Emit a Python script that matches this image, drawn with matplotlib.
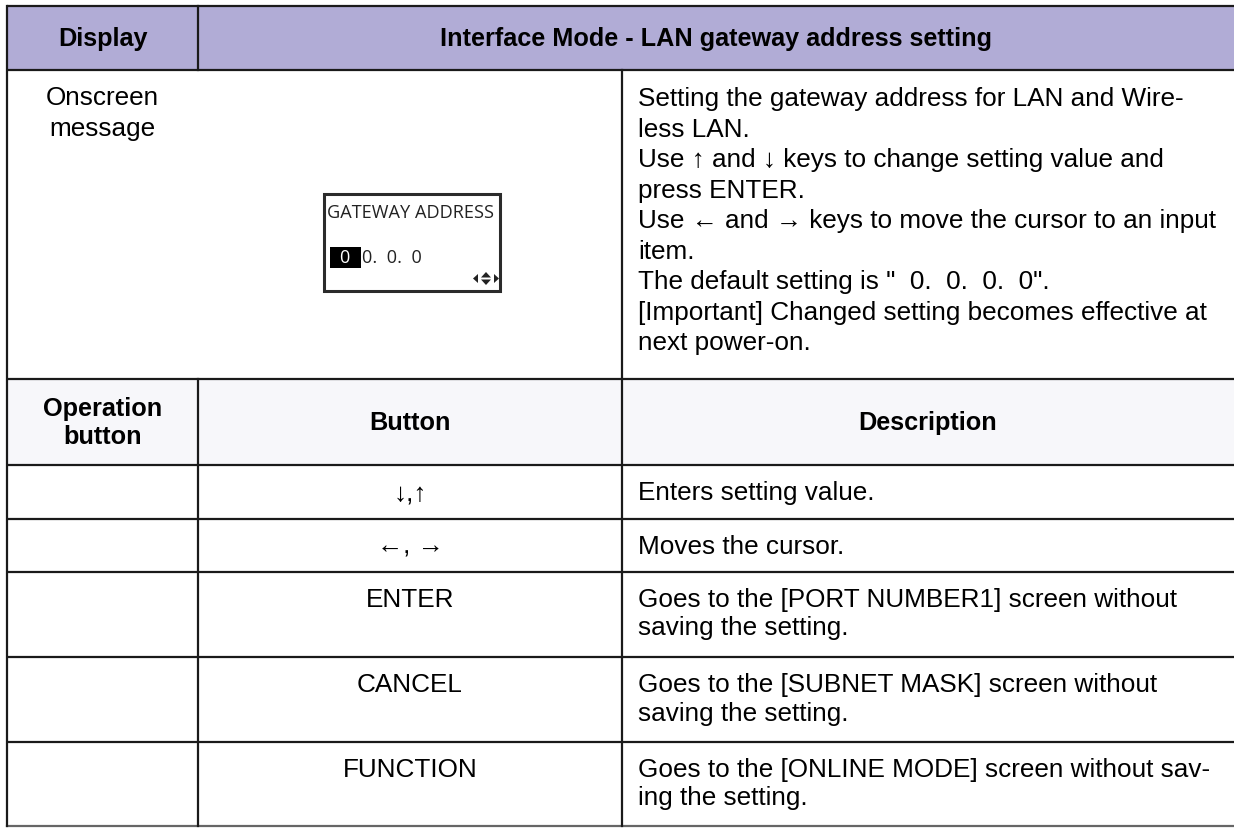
import matplotlib.pyplot as plt
from matplotlib.patches import Rectangle, Polygon

plt.rcParams['font.family'] = ['Liberation Sans', 'DejaVu Sans']

# table content
header_left = 'Display'
header_right = 'Interface Mode - LAN gateway address setting'
onscreen_label = ['Onscreen', 'message']
onscreen_desc = [
    'Setting the gateway address for LAN and Wire-',
    'less LAN.',
    'Use \u2191 and \u2193 keys to change setting value and',
    'press ENTER.',
    'Use \u2190 and \u2192 keys to move the cursor to an input',
    'item.',
    'The default setting is "  0.  0.  0.  0".',
    '[Important] Changed setting becomes effective at',
    'next power-on.',
]
lcd_title = 'GATEWAY ADDRESS'
lcd_cursor = '0'
lcd_rest = '0.  0.  0'
sub_headers = [['Operation', 'button'], ['Button'], ['Description']]
buttons = ['\u2193,\u2191', '\u2190, \u2192', 'ENTER', 'CANCEL', 'FUNCTION']
descriptions = [
    ['Enters setting value.'],
    ['Moves the cursor.'],
    ['Goes to the [PORT NUMBER1] screen without', 'saving the setting.'],
    ['Goes to the [SUBNET MASK] screen without', 'saving the setting.'],
    ['Goes to the [ONLINE MODE] screen without sav-', 'ing the setting.'],
]

# layout in pixels
W, H = 1234, 829
x0, x1, x2, x3 = 7, 198, 622, 1234
row_y = [7, 71, 380, 466, 520, 573, 658, 743, 827]
fs = 18.8
fs_head = 18.2
lead = 30.5
lead2 = 28.5
lcd_fs = 13.1

fig = plt.figure(figsize=(W / 100, H / 100), dpi=100)
ax = fig.add_axes([0, 0, 1, 1])
ax.set_xlim(0, W)
ax.set_ylim(H, 0)
ax.axis('off')

# fills
ax.add_patch(Rectangle((x0, row_y[0]), x3 - x0, row_y[1] - row_y[0],
                       facecolor='#b1acd6', edgecolor='none'))
ax.add_patch(Rectangle((x0, row_y[2]), x3 - x0, row_y[3] - row_y[2],
                       facecolor='#f7f7fa', edgecolor='none'))

# grid lines
lc = '#1a1a1a'
lw = 1.6
for y in row_y[:-1]:
    ax.plot([x0, x3], [y, y], color=lc, lw=lw, solid_capstyle='butt')
ax.plot([x0, x3], [row_y[-1], row_y[-1]], color='#666666', lw=lw)
ax.plot([x0, x0], [row_y[0], row_y[-1]], color=lc, lw=lw)
ax.plot([x1, x1], [row_y[0], row_y[1]], color=lc, lw=lw)
ax.plot([x1, x1], [row_y[2], row_y[-1]], color=lc, lw=lw)
ax.plot([x2, x2], [row_y[1], row_y[-1]], color=lc, lw=lw)

# header
ymid = (row_y[0] + row_y[1]) / 2
ax.text((x0 + x1) / 2, ymid, header_left, ha='center', va='center',
        fontsize=fs_head, fontweight='bold')
ax.text((x1 + x3) / 2, ymid, header_right, ha='center', va='center',
        fontsize=fs_head, fontweight='bold')

# onscreen row
for i, s in enumerate(onscreen_label):
    ax.text((x0 + x1) / 2, row_y[1] + 27 + i * lead, s, ha='center',
            va='center', fontsize=fs)
for i, s in enumerate(onscreen_desc):
    ax.text(638, row_y[1] + 28 + i * lead, s, ha='left', va='center',
            fontsize=fs)

# LCD mock screen
ax.add_patch(Rectangle((324, 195), 176, 97, facecolor='white',
                       edgecolor='#2b2b2b', lw=2.2))
ax.text(327, 213, lcd_title, ha='left', va='center', fontsize=lcd_fs,
        family='Open Sans', color='#222222')
ax.add_patch(Rectangle((330, 248), 31, 21, facecolor='black',
                       edgecolor='none'))
ax.text(339, 258, lcd_cursor, ha='left', va='center', fontsize=lcd_fs,
        family='Open Sans', color='white')
ax.text(362, 258, lcd_rest, ha='left', va='center', fontsize=lcd_fs,
        family='Open Sans', color='#222222')
ic = '#222222'
ax.add_patch(Polygon([[478, 275], [478, 284], [473, 279.5]], closed=True,
                     facecolor=ic, edgecolor='none'))
ax.add_patch(Polygon([[481, 278.5], [491, 278.5], [486, 273]], closed=True,
                     facecolor=ic, edgecolor='none'))
ax.add_patch(Polygon([[481, 280.5], [491, 280.5], [486, 286]], closed=True,
                     facecolor=ic, edgecolor='none'))
ax.add_patch(Polygon([[494, 275], [494, 284], [499, 279.5]], closed=True,
                     facecolor=ic, edgecolor='none'))

# sub header row
ymid = (row_y[2] + row_y[3]) / 2
for i, s in enumerate(sub_headers[0]):
    ax.text((x0 + x1) / 2, ymid + (i - 0.5) * 28, s, ha='center',
            va='center', fontsize=fs_head, fontweight='bold')
ax.text((x1 + x2) / 2, ymid, sub_headers[1][0], ha='center', va='center',
        fontsize=fs_head, fontweight='bold')
ax.text((x2 + x3) / 2, ymid, sub_headers[2][0], ha='center', va='center',
        fontsize=fs_head, fontweight='bold')

# button rows
for k, (b, d) in enumerate(zip(buttons, descriptions)):
    top, bot = row_y[3 + k], row_y[4 + k]
    if len(d) == 1:
        yb = (top + bot) / 2
    else:
        yb = top + 27
    ax.text((x1 + x2) / 2, yb, b, ha='center', va='center', fontsize=fs)
    for i, s in enumerate(d):
        ax.text(638, yb + i * lead2, s, ha='left', va='center', fontsize=fs)

fig.savefig('out.png', dpi=100)
